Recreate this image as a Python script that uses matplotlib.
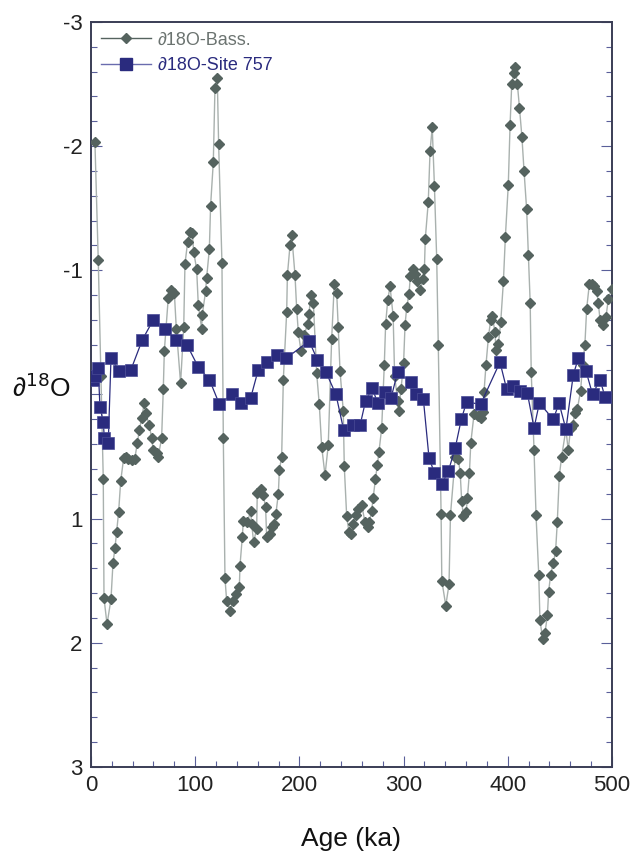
import numpy as np
import matplotlib
matplotlib.use("Agg")
import matplotlib.pyplot as plt
import matplotlib.ticker as tkr
from matplotlib.lines import Line2D

plt.rcParams['font.family'] = ['Liberation Sans', 'DejaVu Sans']

# d18O Bass. record (age ka, d18O)
bass_age = [3.8, 7.0, 9.5, 11.8, 12.5, 15.4, 19.2, 21.1, 23.0, 24.6, 26.5, 28.5,
            31.4, 33.3, 35.8, 39.0, 42.0, 44.5, 46.4, 48.6, 51.2, 52.5, 56.0, 58.2,
            59.8, 63.0, 64.6, 67.8, 69.4, 70.4, 74.2, 76.5, 80.0, 81.9, 86.0, 89.0,
            90.2, 92.8, 95.0, 97.3, 98.5, 101.4, 103.0, 106.2, 106.8, 110.0, 111.0,
            113.6, 114.8, 117.4, 119.0, 121.2, 122.5, 125.7, 127.0, 128.6, 130.2,
            133.4, 136.6, 139.0, 142.4, 143.0, 145.2, 146.2, 150.0, 153.2, 154.2,
            156.1, 159.0, 159.6, 163.2, 165.4, 167.6, 168.6, 171.8, 173.4, 176.0,
            177.5, 179.8, 180.8, 183.0, 184.6, 187.8, 188.5, 191.0, 192.7, 195.8,
            197.4, 199.0, 201.5, 204.7, 208.0, 209.2, 211.1, 213.4, 216.6, 219.1,
            221.4, 224.6, 227.7, 231.0, 233.5, 235.8, 237.3, 239.0, 242.1, 243.1,
            245.4, 247.6, 250.0, 251.8, 254.0, 256.6, 259.8, 263.0, 265.5, 267.0,
            269.3, 270.9, 273.0, 274.8, 276.4, 279.0, 281.5, 282.8, 284.8, 287.0,
            290.0, 291.4, 294.3, 295.2, 297.5, 300.0, 301.4, 303.0, 305.2, 306.5,
            309.4, 311.0, 313.0, 315.8, 319.0, 320.0, 320.8, 323.7, 325.4, 327.5,
            329.6, 331.8, 333.3, 336.0, 336.7, 340.5, 343.6, 345.0, 349.6, 352.6,
            354.3, 355.8, 357.4, 360.0, 361.3, 363.2, 364.5, 367.6, 371.7, 374.0,
            375.9, 377.2, 379.1, 381.4, 383.6, 385.2, 387.7, 388.7, 391.0, 393.2,
            395.8, 397.7, 400.5, 402.2, 403.8, 406.0, 407.0, 409.2, 411.2, 413.6,
            415.6, 418.1, 419.8, 421.5, 422.5, 425.2, 427.1, 429.7, 430.9, 433.5,
            435.7, 438.0, 439.2, 441.1, 443.7, 445.9, 447.5, 449.4, 451.7, 455.8,
            458.0, 460.3, 462.2, 464.4, 466.7, 469.9, 471.8, 474.0, 475.7, 478.3,
            480.5, 483.1, 485.3, 486.9, 488.5, 491.7, 494.2, 496.5, 499.7]
bass_d18o = [-2.03, -1.08, -0.15, 0.68, 1.64, 1.85, 1.65, 1.36, 1.24, 1.11, 0.95, 0.70,
             0.51, 0.50, 0.52, 0.53, 0.52, 0.39, 0.29, 0.19, 0.07, 0.15, 0.25, 0.35,
             0.45, 0.47, 0.50, 0.35, -0.04, -0.35, -0.78, -0.84, -0.82, -0.53, -0.09, -0.54,
             -1.05, -1.23, -1.31, -1.30, -1.15, -1.01, -0.72, -0.53, -0.64, -0.83, -0.94,
             -1.17, -1.52, -1.87, -2.47, -2.55, -2.02, -1.06, 0.35, 1.48, 1.66,
             1.74, 1.66, 1.61, 1.55, 1.38, 1.15, 1.02, 1.03, 0.94, 1.04,
             1.19, 1.08, 0.79, 0.76, 0.81, 0.91, 1.15, 1.12, 1.07, 1.04,
             0.96, 0.80, 0.61, 0.50, -0.12, -0.66, -0.96, -1.20, -1.28, -0.96,
             -0.69, -0.50, -0.35, -0.48, -0.57, -0.65, -0.80, -0.74, -0.17, 0.08,
             0.42, 0.65, 0.41, -0.45, -0.89, -0.82, -0.54, -0.19, 0.13, 0.58,
             0.98, 1.11, 1.12, 1.04, 0.97, 0.92, 0.89, 1.03, 1.07, 1.03,
             0.94, 0.83, 0.68, 0.57, 0.46, 0.27, -0.24, -0.57, -0.76, -0.87,
             -0.63, -0.15, 0.05, 0.13, -0.04, -0.25, -0.56, -0.70, -0.81, -0.95,
             -1.01, -0.97, -0.91, -0.84, -0.93, -1.01, -1.25, -1.55, -1.96, -2.15,
             -1.68, -1.09, -0.40, 0.96, 1.50, 1.70, 1.53, 0.97, 0.50, 0.52,
             0.63, 0.86, 0.98, 0.95, 0.83, 0.63, 0.39, 0.16, 0.17, 0.19,
             0.14, -0.02, -0.24, -0.46, -0.60, -0.63, -0.50, -0.36, -0.41, -0.58,
             -0.91, -1.27, -1.69, -2.17, -2.50, -2.59, -2.64, -2.50, -2.31, -2.07,
             -1.80, -1.49, -1.12, -0.74, -0.18, 0.45, 0.97, 1.45, 1.82, 1.97,
             1.92, 1.78, 1.59, 1.45, 1.36, 1.26, 1.03, 0.66, 0.50, 0.28,
             0.45, 0.27, 0.25, 0.15, 0.12, -0.03, -0.24, -0.40, -0.69, -0.89,
             -0.89, -0.87, -0.83, -0.74, -0.60, -0.56, -0.62, -0.77, -0.85]

# d18O Site 757 record
site_age = [2.0, 3.8, 7.0, 8.6, 11.8, 12.8, 16.6, 19.2, 27.2, 38.4, 49.3, 59.8,
            71.0, 81.3, 92.1, 103.0, 113.6, 123.3, 135.0, 143.6, 153.2, 160.6,
            169.2, 178.2, 187.1, 209.4, 217.2, 225.5, 235.1, 242.6, 251.8, 258.2,
            263.6, 270.0, 275.1, 282.2, 287.9, 294.3, 307.1, 311.6, 319.0, 324.4,
            329.5, 336.7, 342.9, 349.6, 355.4, 360.5, 373.9, 392.5, 399.0, 404.7,
            411.7, 418.8, 425.2, 430.3, 443.7, 449.2, 455.8, 462.9, 467.7, 475.0,
            481.4, 488.5, 493.3]
site_d18o = [-0.12, -0.15, -0.21, 0.10, 0.22, 0.35, 0.39, -0.29, -0.19, -0.20, -0.44, -0.60,
             -0.53, -0.44, -0.40, -0.22, -0.12, 0.08, 0.00, 0.07, 0.03, -0.20,
             -0.26, -0.32, -0.29, -0.43, -0.28, -0.18, 0.00, 0.29, 0.25, 0.25,
             0.05, -0.05, 0.07, -0.02, 0.03, -0.18, -0.10, 0.00, 0.04, 0.51,
             0.63, 0.72, 0.62, 0.43, 0.20, 0.06, 0.08, -0.26, -0.04, -0.07,
             -0.03, -0.01, 0.27, 0.07, 0.20, 0.07, 0.28, -0.16, -0.29, -0.19,
             0.00, -0.12, 0.02]

yticks = [-3, -2, -1, 0, 1, 2, 3]
ytick_labels = ['-3', '-2', '-1', '', '1', '2', '3']

bass_col = '#55635f'
site_col = '#2a2b7e'
tick_col = '#5a5f9a'

fig = plt.figure(figsize=(6.3, 8.57), dpi=100)
ax = fig.add_axes([0.1444, 0.105, 0.827, 0.8695])

ax.plot(bass_age, bass_d18o, color='#a9b1ae', lw=1.0, zorder=2)
ax.plot(bass_age, bass_d18o, ls='none', marker='D', ms=5, color=bass_col,
        mec=bass_col, zorder=3)
ax.plot(site_age, site_d18o, color=site_col, lw=0.9, marker='s', ms=8.5,
        mec='#4a4c96', mew=0.5, zorder=4)

# legend handles
h1 = Line2D([], [], color=bass_col, lw=1, marker='D', ms=5)
h2 = Line2D([], [], color='#6a6cae', lw=1, marker='s', ms=8, mfc=site_col, mec=site_col)
leg = ax.legend([h1, h2], ['∂18O-Bass.', '∂18O-Site 757'], loc='upper left',
                frameon=False, fontsize=13, handlelength=2.8, borderaxespad=0.35,
                labelspacing=0.45, handletextpad=0.35, borderpad=0.2)
leg.get_texts()[0].set_color('#6b7370')
leg.get_texts()[1].set_color(site_col)

ax.set_xlim(0, 500)
ax.set_ylim(3, -3)
ax.set_xticks([0, 100, 200, 300, 400, 500])
ax.xaxis.set_minor_locator(tkr.MultipleLocator(20))
ax.set_yticks(yticks)
ax.set_yticklabels(ytick_labels)
ax.yaxis.set_minor_locator(tkr.MultipleLocator(0.2))
ax.tick_params(which='both', direction='in', colors=tick_col, labelcolor='#222222',
               labelsize=16, right=True, top=False, width=0.8)
ax.tick_params(which='major', length=8, pad=6)
ax.tick_params(which='minor', length=4)
for s in ax.spines.values():
    s.set_color('#3a3d55')
    s.set_linewidth(1.4)

ax.set_xlabel('Age (ka)', fontsize=19, labelpad=22, color='#111111')
ax.set_ylabel('∂$^{18}$O', fontsize=19, rotation=0, color='#111111')
ax.yaxis.set_label_coords(-0.095, 0.49)

fig.savefig('out.png', dpi=100)
